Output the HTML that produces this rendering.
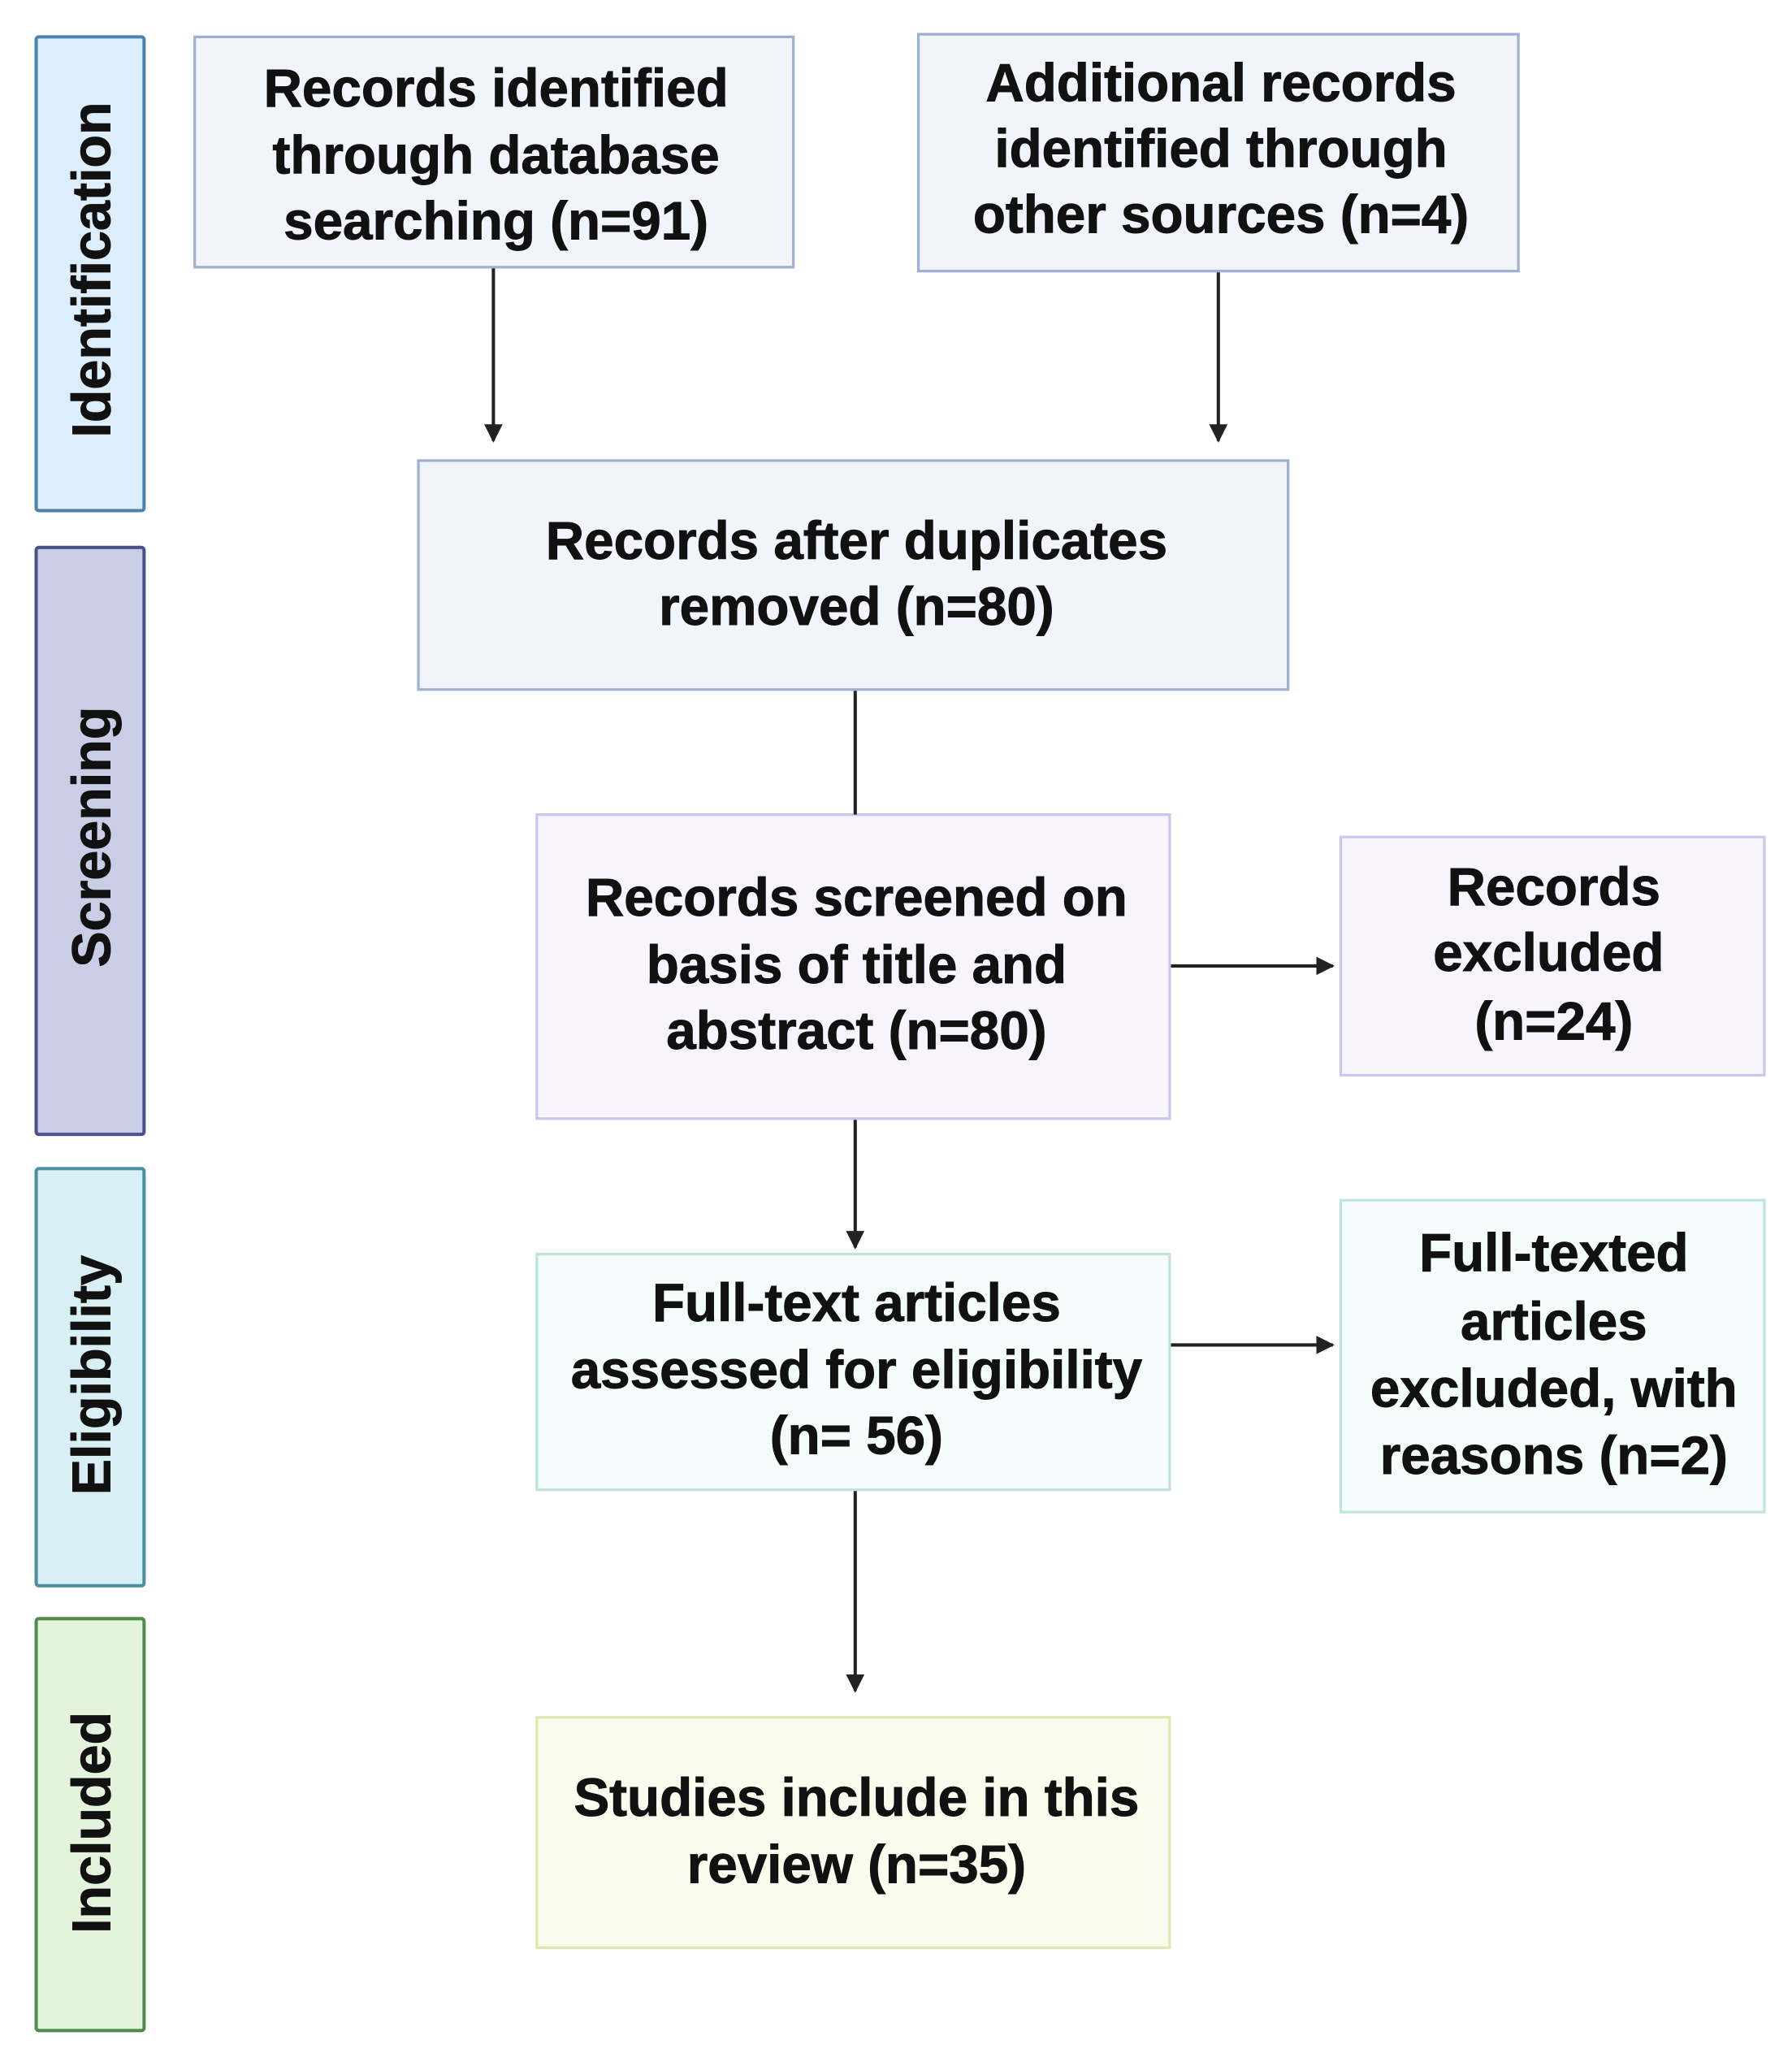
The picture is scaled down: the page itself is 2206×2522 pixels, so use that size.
<!DOCTYPE html>
<html><head><meta charset="utf-8"><style>
html,body{margin:0;padding:0;background:#fff;}
svg{display:block;width:2206px;height:2522px;}
text{font-family:"Liberation Sans",sans-serif;font-weight:bold;fill:#111;stroke:#111;stroke-width:0.6px;}
</style></head><body>
<svg viewBox="0 0 1362 1557" preserveAspectRatio="none" xmlns="http://www.w3.org/2000/svg">
<defs>
<marker id="av" viewBox="0 0 10 10" markerWidth="14" markerHeight="16" refX="9" refY="5" orient="auto" markerUnits="userSpaceOnUse"><path d="M0,0 L10,5 L0,10 Z" fill="#222"/></marker></defs>
<rect x="27.5" y="28" width="82" height="360" rx="2" fill="#dceefb" stroke="#4d82ad" stroke-width="2.5"/>
<rect x="27.5" y="416" width="82" height="446" rx="2" fill="#c9cde6" stroke="#4a5285" stroke-width="2.5"/>
<rect x="27.5" y="888" width="82" height="317" rx="2" fill="#d8f0f5" stroke="#4a8fa6" stroke-width="2.5"/>
<rect x="27.5" y="1230" width="82" height="313" rx="2" fill="#e3f3dc" stroke="#4e8c4e" stroke-width="2.5"/>
<g font-size="41" text-anchor="middle" dominant-baseline="central">
<text transform="translate(70,205) rotate(-90)">Identification</text>
<text transform="translate(70,636) rotate(-90)">Screening</text>
<text transform="translate(70,1045) rotate(-90)">Eligibility</text>
<text transform="translate(70,1385) rotate(-90)">Included</text>
</g>
<rect x="148" y="28" width="455" height="175" fill="#f1f5fb" stroke="#9fb0d3" stroke-width="2"/>
<rect x="698" y="26" width="456" height="180" fill="#f1f5fb" stroke="#9fb0d3" stroke-width="2"/>
<rect x="318" y="350" width="661" height="174" fill="#f1f5fb" stroke="#9fb0d3" stroke-width="2"/>
<rect x="408" y="619" width="481" height="231" fill="#f7f4fd" stroke="#cbc6ee" stroke-width="2"/>
<rect x="1019" y="636" width="322" height="181" fill="#f7f4fd" stroke="#cbc6ee" stroke-width="2"/>
<rect x="408" y="953" width="481" height="179" fill="#f4fdfb" stroke="#c0e3dc" stroke-width="2"/>
<rect x="1019" y="912" width="322" height="237" fill="#f4fdfb" stroke="#c0e3dc" stroke-width="2"/>
<rect x="408" y="1305" width="481" height="175" fill="#fafdee" stroke="#dde9b3" stroke-width="2"/>
<g stroke="#222" stroke-width="2.5" fill="none">
<line x1="375" y1="204" x2="375" y2="335" marker-end="url(#av)"/>
<line x1="926" y1="207" x2="926" y2="335" marker-end="url(#av)"/>
<line x1="650" y1="525" x2="650" y2="619"/>
<line x1="650" y1="851" x2="650" y2="948" marker-end="url(#av)"/>
<line x1="650" y1="1133" x2="650" y2="1285" marker-end="url(#av)"/>
<line x1="890" y1="734" x2="1013" y2="734" marker-end="url(#av)"/>
<line x1="890" y1="1022" x2="1013" y2="1022" marker-end="url(#av)"/>
</g>
<g font-size="40.5" text-anchor="middle" dominant-baseline="central">
<text x="377" y="67">Records identified</text>
<text x="377" y="118">through database</text>
<text x="377" y="168">searching (n=91)</text>
<text x="928" y="63">Additional records</text>
<text x="928" y="113">identified through</text>
<text x="928" y="163">other sources (n=4)</text>
<text x="651" y="411">Records after duplicates</text>
<text x="651" y="461">removed (n=80)</text>
<text x="651" y="682">Records screened on</text>
<text x="651" y="733">basis of title and</text>
<text x="651" y="783">abstract (n=80)</text>
<text x="1181" y="674">Records</text>
<text x="1177" y="724">excluded</text>
<text x="1181" y="776">(n=24)</text>
<text x="651" y="990">Full-text articles</text>
<text x="651" y="1041">assessed for eligibility</text>
<text x="651" y="1091">(n= 56)</text>
<text x="1181" y="952">Full-texted</text>
<text x="1181" y="1004">articles</text>
<text x="1181" y="1055">excluded, with</text>
<text x="1181" y="1106">reasons (n=2)</text>
<text x="651" y="1366">Studies include in this</text>
<text x="651" y="1417">review (n=35)</text>
</g>
</svg>
</body></html>
